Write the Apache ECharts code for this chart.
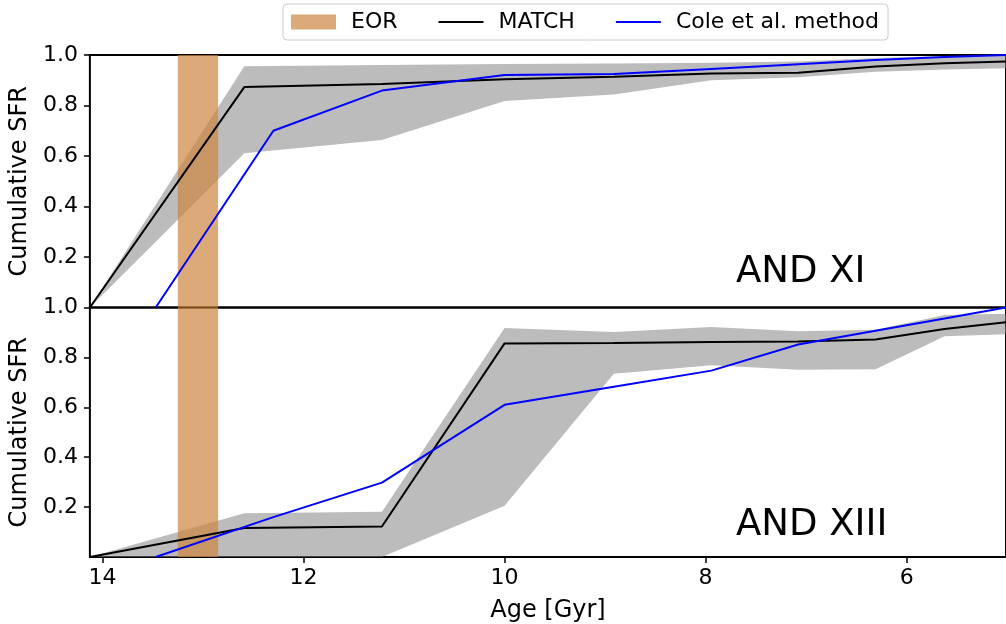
<!DOCTYPE html>
<html>
<head>
<meta charset="utf-8">
<script src="https://cdn.jsdelivr.net/npm/echarts@6/dist/echarts.min.js"></script>
<style>
  html, body { margin: 0; padding: 0; background: #fff; }
  #chart { width: 1006px; height: 624px; }
</style>
</head>
<body>
<div id="chart"></div>
<script>
// Age bins (Gyr) of the MATCH cumulative star-formation histories
const ageBins = [14.125, 12.589, 11.220, 10.0, 8.913, 7.943, 7.079, 6.310, 5.623, 5.012];
// Age points of the Cole et al. histories
const coleAges = [13.47, 12.30, 11.220, 10.0, 8.913, 7.943, 7.079, 6.310, 5.623, 5.012];

// AND XI
const xiMatch     = [0, 0.873, 0.885, 0.904, 0.914, 0.927, 0.930, 0.954, 0.967, 0.974];
const xiMatchLow  = [0, 0.611, 0.663, 0.818, 0.844, 0.900, 0.912, 0.934, 0.943, 0.948];
const xiMatchHigh = [0, 0.955, 0.960, 0.964, 0.966, 0.969, 0.974, 0.988, 0.996, 0.998];
const xiCole      = [0, 0.700, 0.859, 0.921, 0.925, 0.945, 0.963, 0.980, 0.992, 1.000];

// AND XIII
const xiiiMatch     = [0, 0.116, 0.122, 0.856, 0.858, 0.862, 0.864, 0.872, 0.914, 0.941];
const xiiiMatchLow  = [0, 0.000, 0.000, 0.205, 0.734, 0.769, 0.751, 0.753, 0.885, 0.893];
const xiiiMatchHigh = [0, 0.175, 0.181, 0.918, 0.902, 0.922, 0.905, 0.911, 0.970, 0.975];
const xiiiCole      = [0, 0.160, 0.298, 0.610, 0.682, 0.747, 0.852, 0.907, 0.956, 1.000];

// Epoch of reionization (Gyr ago)
const eorRange = [12.85, 13.25];

const xTicks = [14, 12, 10, 8, 6];
const yTicks = [0.2, 0.4, 0.6, 0.8, 1.0];
const panelNames = ['AND XI', 'AND XIII'];

const FONT = 'DejaVu Sans';
const BAND_FILL = 'rgba(128,128,128,0.53)';
const EOR_FILL = 'rgba(205,133,63,0.7)';

const chart = echarts.init(document.getElementById('chart'), null, { renderer: 'canvas' });

function pairs(xs, ys) { return xs.map((x, i) => [x, ys[i]]); }

// Uncertainty envelope drawn as one polygon through the axis scales
function bandSeries(gridIdx, low, high) {
  return {
    type: 'custom',
    xAxisIndex: gridIdx, yAxisIndex: gridIdx,
    silent: true, z: 1,
    data: ageBins.map((a, i) => [a, low[i], high[i]]),
    encode: { x: 0, y: [1, 2] },
    renderItem: function (params, api) {
      if (params.dataIndex !== 0) return;
      const pts = [];
      for (let i = 0; i < ageBins.length; i++) pts.push(api.coord([ageBins[i], high[i]]));
      for (let i = ageBins.length - 1; i >= 0; i--) pts.push(api.coord([ageBins[i], low[i]]));
      return { type: 'polygon', shape: { points: pts }, style: { fill: BAND_FILL } };
    }
  };
}

function eorSeries(gridIdx) {
  return {
    name: 'EOR',
    type: 'custom',
    xAxisIndex: gridIdx, yAxisIndex: gridIdx,
    silent: true, z: 2,
    itemStyle: { color: EOR_FILL },
    data: [[eorRange[0], eorRange[1], 0, 1]],
    encode: { x: [0, 1], y: [2, 3] },
    renderItem: function (params, api) {
      const p0 = api.coord([api.value(1), api.value(3)]);
      const p1 = api.coord([api.value(0), api.value(2)]);
      return {
        type: 'rect',
        shape: { x: p0[0], y: p0[1], width: p1[0] - p0[0], height: p1[1] - p0[1] },
        style: { fill: EOR_FILL }
      };
    }
  };
}

function lineSeries(gridIdx, name, xs, ys, color) {
  return {
    name: name,
    type: 'line',
    xAxisIndex: gridIdx, yAxisIndex: gridIdx,
    data: pairs(xs, ys),
    symbol: 'none',
    z: 3,
    itemStyle: { color: color },
    lineStyle: { color: color, width: 2 }
  };
}

const grids = [
  { left: 86, top: 55, width: 928, height: 252.5 },
  { left: 86, top: 307.5, width: 928, height: 253.5 }
].map(g => Object.assign(g, {
  show: true, borderColor: '#000', borderWidth: 2, backgroundColor: 'transparent'
}));

function xAxis(gridIdx, withLabels) {
  return {
    type: 'value', gridIndex: gridIdx, inverse: true,
    min: ageBins[ageBins.length - 1], max: ageBins[0],
    splitLine: { show: false },
    axisLine: { show: false },
    axisTick: withLabels
      ? { show: true, customValues: xTicks, length: 6, lineStyle: { color: '#000', width: 1.5 } }
      : { show: false },
    axisLabel: withLabels
      ? { show: true, customValues: xTicks, fontSize: 22, fontFamily: FONT, color: '#000', margin: 10 }
      : { show: false },
    name: withLabels ? 'Age [Gyr]' : '',
    nameLocation: 'middle', nameGap: 42,
    nameTextStyle: { fontSize: 24, fontFamily: FONT, color: '#000' }
  };
}

function yAxis(gridIdx) {
  return {
    type: 'value', gridIndex: gridIdx, min: 0, max: 1,
    splitLine: { show: false },
    axisLine: { show: false },
    axisTick: { show: true, customValues: yTicks, length: 6, lineStyle: { color: '#000', width: 1.5 } },
    axisLabel: {
      show: true, customValues: yTicks, fontSize: 22, fontFamily: FONT, color: '#000', margin: 12,
      formatter: v => v.toFixed(1)
    },
    name: 'Cumulative SFR',
    nameLocation: 'middle', nameGap: 49,
    nameTextStyle: { fontSize: 24, fontFamily: FONT, color: '#000' }
  };
}

// line entries in the legend show only the stroke, no marker
const noMarker = { opacity: 0 };

const option = {
  animation: false,
  backgroundColor: '#fff',
  grid: grids,
  xAxis: [xAxis(0, false), xAxis(1, true)],
  yAxis: [yAxis(0), yAxis(1)],
  legend: {
    left: 283, top: 4,
    data: [
      { name: 'EOR', icon: 'rect' },
      { name: 'MATCH', itemStyle: noMarker },
      { name: 'Cole et al. method', itemStyle: noMarker }
    ],
    itemWidth: 45, itemHeight: 15, itemGap: 40,
    padding: [7, 9, 7, 8],
    backgroundColor: '#fff',
    borderColor: '#cccccc', borderWidth: 1, borderRadius: 4,
    selectedMode: false,
    textStyle: { fontSize: 22, fontFamily: FONT, color: '#000', padding: [0, 0, 0, 10] }
  },
  graphic: [
    { type: 'text', x: 736, y: 272, z: 10,
      style: { text: panelNames[0], fontSize: 37, fontFamily: FONT, fill: '#000', align: 'left', verticalAlign: 'middle' } },
    { type: 'text', x: 736, y: 525.5, z: 10,
      style: { text: panelNames[1], fontSize: 37, fontFamily: FONT, fill: '#000', align: 'left', verticalAlign: 'middle' } }
  ],
  series: [
    bandSeries(0, xiMatchLow, xiMatchHigh),
    eorSeries(0),
    lineSeries(0, 'MATCH', ageBins, xiMatch, '#000000'),
    lineSeries(0, 'Cole et al. method', coleAges, xiCole, '#0000ff'),
    bandSeries(1, xiiiMatchLow, xiiiMatchHigh),
    eorSeries(1),
    lineSeries(1, 'MATCH', ageBins, xiiiMatch, '#000000'),
    lineSeries(1, 'Cole et al. method', coleAges, xiiiCole, '#0000ff')
  ]
};

chart.setOption(option);
</script>
</body>
</html>
